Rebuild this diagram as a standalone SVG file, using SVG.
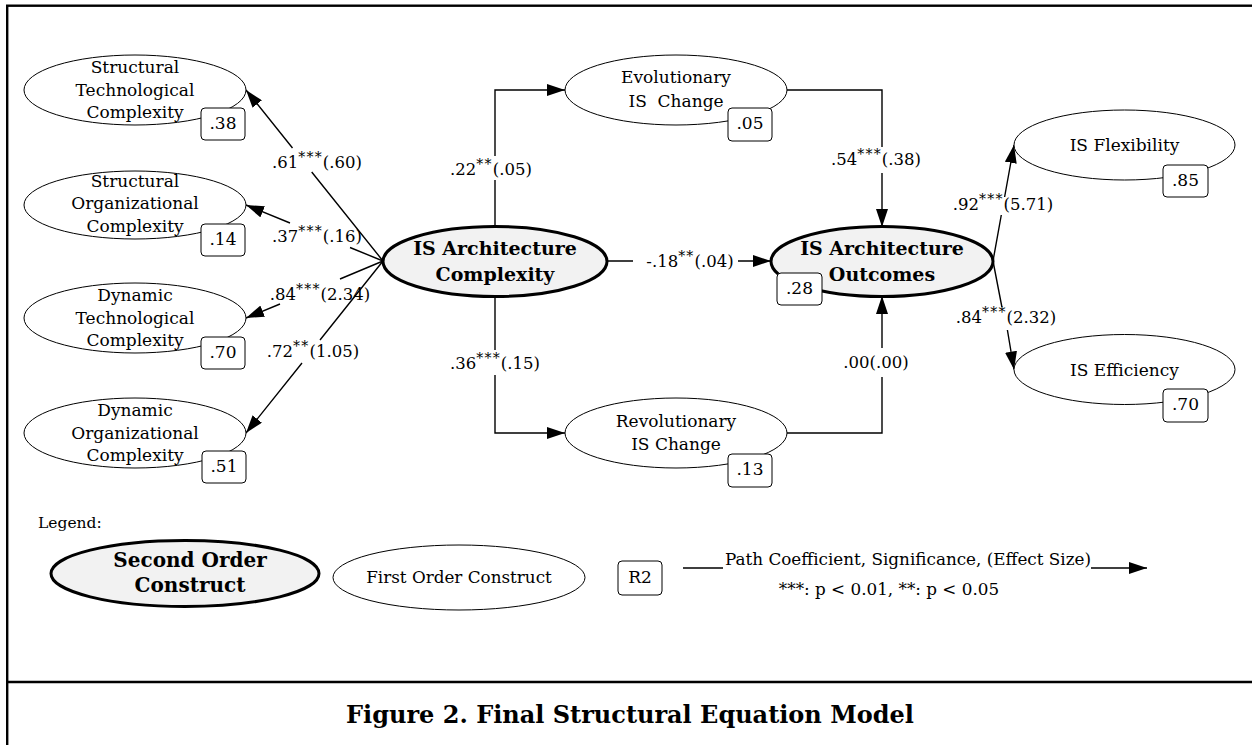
<svg xmlns="http://www.w3.org/2000/svg" width="1252" height="745" viewBox="0 0 1252 745">
<style>
text{font-family:"DejaVu Serif","Liberation Serif",serif;fill:#000}
.n{font-size:17px;text-anchor:middle}
.b{font-size:19px;font-weight:bold;text-anchor:middle}
.lbl{font-size:16.5px;text-anchor:middle}
.st{font-size:14px;letter-spacing:1.2px;fill:#000}
.e1{fill:#fff;stroke:#000;stroke-width:1}
.e2{fill:#f2f2f2;stroke:#000;stroke-width:3}
.box{fill:#fff;stroke:#000;stroke-width:1}
.c{fill:none;stroke:#000;stroke-width:1.4;marker-end:url(#ah)}
.frame{fill:none;stroke:#000;stroke-width:2.4}
.lg{font-size:16.8px;text-anchor:middle}
</style>
<defs>
<marker id="ah" markerUnits="userSpaceOnUse" markerWidth="18" markerHeight="12" refX="18" refY="6" orient="auto">
<path d="M0,0 L18,6 L0,12 z" fill="#000"/>
</marker>
</defs>
<rect class="frame" x="7.2" y="5.7" width="1260" height="760"/>
<line x1="7" y1="682" x2="1252" y2="682" stroke="#000" stroke-width="2.6"/>

<g id="connectors">
<path class="c" d="M383,261 L311.7,172 M292.5,148 L246,90"/>
<path class="c" d="M383,261 L350,247.5 M290,223 L246,205"/>
<path class="c" d="M383,261 L340,279 M280,304 L246,318"/>
<path class="c" d="M383,261 L320,340 M302,363 L246,433"/>
<path class="c" d="M495,226 L495,180 M495,156 L495,90 L565,90"/>
<path class="c" d="M495,297 L495,350 M495,375 L495,433 L565,433"/>
<path class="c" d="M607,261 L633,261 M738,261 L771,261"/>
<path class="c" d="M787,90 L882,90 L882,147 M882,173 L882,227"/>
<path class="c" d="M787,433 L882,433 L882,377 M882,348 L882,296"/>
<path class="c" d="M993,261 L1001.3,215 M1004.6,197 L1014,145"/>
<path class="c" d="M993,261 L1001.9,307 M1007.4,330 L1014,369.5"/>
</g>

<g id="labels">
<text class="lbl" x="317" y="168">.61<tspan class="st" dy="-6">***</tspan><tspan dy="6">(.60)</tspan></text>
<text class="lbl" x="317" y="242">.37<tspan class="st" dy="-6">***</tspan><tspan dy="6">(.16)</tspan></text>
<text class="lbl" x="320" y="300">.84<tspan class="st" dy="-6">***</tspan><tspan dy="6">(2.34)</tspan></text>
<text class="lbl" x="313" y="357">.72<tspan class="st" dy="-6">**</tspan><tspan dy="6">(1.05)</tspan></text>
<text class="lbl" x="491" y="175">.22<tspan class="st" dy="-6">**</tspan><tspan dy="6">(.05)</tspan></text>
<text class="lbl" x="495" y="369">.36<tspan class="st" dy="-6">***</tspan><tspan dy="6">(.15)</tspan></text>
<text class="lbl" x="690" y="267">-.18<tspan class="st" dy="-6">**</tspan><tspan dy="6">(.04)</tspan></text>
<text class="lbl" x="876" y="165">.54<tspan class="st" dy="-6">***</tspan><tspan dy="6">(.38)</tspan></text>
<text class="lbl" x="876" y="368">.00(.00)</text>
<text class="lbl" x="1003" y="210">.92<tspan class="st" dy="-6">***</tspan><tspan dy="6">(5.71)</tspan></text>
<text class="lbl" x="1006" y="323">.84<tspan class="st" dy="-6">***</tspan><tspan dy="6">(2.32)</tspan></text>
</g>

<g id="stc">
<ellipse class="e1" cx="135" cy="90" rx="111" ry="35"/>
<text class="n" x="135" y="73">Structural</text>
<text class="n" x="135" y="96">Technological</text>
<text class="n" x="135" y="118">Complexity</text>
<rect class="box" x="201" y="108" width="44" height="32" rx="4"/>
<text class="n" x="223" y="129">.38</text>
</g>
<g id="soc">
<ellipse class="e1" cx="135" cy="205" rx="111" ry="34"/>
<text class="n" x="135" y="187">Structural</text>
<text class="n" x="135" y="209">Organizational</text>
<text class="n" x="135" y="232">Complexity</text>
<rect class="box" x="201" y="224" width="44" height="32" rx="4"/>
<text class="n" x="223" y="245">.14</text>
</g>
<g id="dtc">
<ellipse class="e1" cx="135" cy="318" rx="111" ry="35"/>
<text class="n" x="135" y="301">Dynamic</text>
<text class="n" x="135" y="324">Technological</text>
<text class="n" x="135" y="346">Complexity</text>
<rect class="box" x="201" y="337" width="44" height="32" rx="4"/>
<text class="n" x="223" y="358">.70</text>
</g>
<g id="doc">
<ellipse class="e1" cx="135" cy="433" rx="111" ry="35"/>
<text class="n" x="135" y="416">Dynamic</text>
<text class="n" x="135" y="439">Organizational</text>
<text class="n" x="135" y="461">Complexity</text>
<rect class="box" x="202" y="451" width="44" height="32" rx="4"/>
<text class="n" x="224" y="472">.51</text>
</g>
<g id="iac">
<ellipse class="e2" cx="495" cy="261.5" rx="112" ry="35"/>
<text class="b" x="495" y="255">IS Architecture</text>
<text class="b" x="495" y="281">Complexity</text>
</g>
<g id="evo">
<ellipse class="e1" cx="676" cy="90" rx="111" ry="35"/>
<text class="n" x="676" y="83">Evolutionary</text>
<text class="n" x="676" y="107" xml:space="preserve">IS  Change</text>
<rect class="box" x="728" y="108" width="44" height="33" rx="4"/>
<text class="n" x="750" y="129">.05</text>
</g>
<g id="rev">
<ellipse class="e1" cx="676" cy="433" rx="111" ry="35"/>
<text class="n" x="676" y="427">Revolutionary</text>
<text class="n" x="676" y="450">IS Change</text>
<rect class="box" x="728" y="454" width="44" height="33" rx="4"/>
<text class="n" x="750" y="475">.13</text>
</g>
<g id="iao">
<ellipse class="e2" cx="882" cy="261.5" rx="111" ry="35"/>
<text class="b" x="882" y="255">IS Architecture</text>
<text class="b" x="882" y="281">Outcomes</text>
<rect class="box" x="777" y="273" width="45" height="32" rx="4"/>
<text class="n" x="799.5" y="294">.28</text>
</g>
<g id="flex">
<ellipse class="e1" cx="1124.5" cy="145" rx="110.5" ry="35"/>
<text class="n" x="1124.5" y="151">IS Flexibility</text>
<rect class="box" x="1163" y="165" width="45" height="32" rx="4"/>
<text class="n" x="1185.5" y="186">.85</text>
</g>
<g id="eff">
<ellipse class="e1" cx="1124.5" cy="369.5" rx="110.5" ry="35"/>
<text class="n" x="1124.5" y="376">IS Efficiency</text>
<rect class="box" x="1163" y="389" width="45" height="33" rx="4"/>
<text class="n" x="1185.5" y="410">.70</text>
</g>

<g id="legend">
<text x="38" y="528" style="font-size:15.5px">Legend:</text>
<ellipse class="e2" cx="185" cy="573.5" rx="134" ry="33"/>
<text class="b" x="190" y="567" style="font-size:20px">Second Order</text>
<text class="b" x="190" y="592" style="font-size:20px">Construct</text>
<ellipse class="e1" cx="459" cy="577.5" rx="126" ry="32.5"/>
<text class="lg" x="459" y="583">First Order Construct</text>
<rect class="box" x="618" y="561" width="44" height="34" rx="4"/>
<text class="n" x="640" y="583">R2</text>
<path class="c" d="M683,568 L723,568 M1091,568 L1147,568"/>
<text class="lg" x="908" y="565">Path Coefficient, Significance, (Effect Size)</text>
<text class="lg" x="889" y="595">***: p &lt; 0.01, **: p &lt; 0.05</text>
</g>

<g id="caption">
<text x="630" y="723" style="font-size:24px;font-weight:bold;text-anchor:middle">Figure 2. Final Structural Equation Model</text>
</g>
</svg>
